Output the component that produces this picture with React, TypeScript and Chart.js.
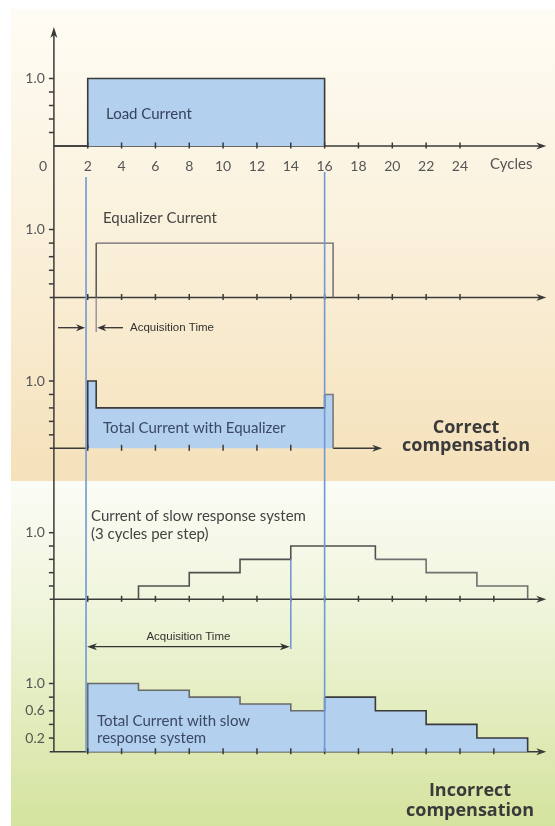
import React, { useEffect, useRef } from "react";
import { Chart, registerables } from "chart.js";
Chart.register(...registerables);

const W = 555;
const H = 826;

// ---- x axis: cycles ----
const cycleTickValues = [2, 4, 6, 8, 10, 12, 14, 16, 18, 20, 22, 24];
const cycleTickLabels = ["2", "4", "6", "8", "10", "12", "14", "16", "18", "20", "22", "24"];
const longTickValues = [2, 4, 6, 8, 10, 12, 14, 16, 18, 20, 22, 24, 26];
const shortTickValues = [2, 4, 6, 8, 10, 12, 14];
const yTickValues = [0.2, 0.4, 0.6, 0.8, 1.0];
const bottomYLabelValues = [1.0, 0.6, 0.2];
const bottomYLabels = ["1.0", "0.6", "0.2"];

// ---- series (cycle where level starts, level) ----
const loadCycles = [0, 2, 16];
const loadLevels = [0, 1.0, 0];

const eqCycles = [2.5, 2.5, 16.5];
const eqLevels = [0, 0.8, 0];

const totEqCycles = [2, 2, 2.5, 16, 16.5];
const totEqLevels = [0, 1.0, 0.6, 0.8, 0];

const slowCycles = [5, 5, 8, 11, 14, 19, 22, 25, 28];
const slowLevels = [0, 0.2, 0.4, 0.6, 0.8, 0.6, 0.4, 0.2, 0];

const totSlowCycles = [2, 2, 5, 8, 11, 14, 16, 19, 22, 25, 28];
const totSlowLevels = [0, 1.0, 0.9, 0.8, 0.7, 0.6, 0.8, 0.6, 0.4, 0.2, 0];

// markers (cycles)
const guideStart = 1.9;
const guideEnd = 16;
const acqEqEnd = 2.5;
const acqSlowEnd = 14;

// ---- layout ----
const X0 = 53.9; // pixel of cycle 0
const PPC = 16.92; // pixels per cycle
const ARROW_END = 29.1; // cycles
const TOT_ARROW_END = 19.4;

const panels = [
  { id: "yLoad", base: 146, one: 78.5 },
  { id: "yEq", base: 297.5, one: 229.5 },
  { id: "yTot", base: 448.3, one: 381 },
  { id: "ySlow", base: 599.3, one: 532.7 },
  { id: "yBot", base: 751.7, one: 683.5 },
];

const FONT = 'Lato, "Open Sans", sans-serif';
const FILL = "#b3d0ee";
const LINE = "#3a3a3a";
const AXIS = "#3a3a3a";
const GUIDE = "#6f99d2";

const pts = (xs: number[], ys: number[]) => xs.map((x, i) => ({ x, y: ys[i] }));

function arrowHead(ctx: CanvasRenderingContext2D, x: number, y: number, dir: number, len = 10, half = 3.5) {
  ctx.beginPath();
  ctx.moveTo(x, y);
  ctx.lineTo(x - dir * len, y - half);
  ctx.lineTo(x - dir * len * 0.7, y);
  ctx.lineTo(x - dir * len, y + half);
  ctx.closePath();
  ctx.fill();
}

function hLine(ctx: CanvasRenderingContext2D, x1: number, x2: number, y: number) {
  ctx.beginPath();
  ctx.moveTo(x1, y);
  ctx.lineTo(x2, y);
  ctx.stroke();
}
function vLine(ctx: CanvasRenderingContext2D, x: number, y1: number, y2: number) {
  ctx.beginPath();
  ctx.moveTo(x, y1);
  ctx.lineTo(x, y2);
  ctx.stroke();
}
function text(ctx: CanvasRenderingContext2D, s: string, x: number, y: number, font: string, color: string, align: CanvasTextAlign = "left") {
  ctx.font = font;
  ctx.fillStyle = color;
  ctx.textAlign = align;
  ctx.textBaseline = "middle";
  ctx.fillText(s, x, y);
}

const diagramPlugin = {
  id: "diagram",
  beforeDraw(chart: any) {
    const ctx: CanvasRenderingContext2D = chart.ctx;
    ctx.save();
    ctx.fillStyle = "#ffffff";
    ctx.fillRect(0, 0, W, H);
    let g = ctx.createLinearGradient(0, 9, 0, 481);
    g.addColorStop(0, "#fefcf4");
    g.addColorStop(0.5, "#faf0da");
    g.addColorStop(1, "#f5e1ba");
    ctx.fillStyle = g;
    ctx.fillRect(11, 9, W - 11, 472);
    g = ctx.createLinearGradient(0, 481, 0, H);
    g.addColorStop(0, "#fbfcf6");
    g.addColorStop(0.4, "#eef4d8");
    g.addColorStop(1, "#d4e39e");
    ctx.fillStyle = g;
    ctx.fillRect(11, 481, W - 11, H - 481);
    ctx.restore();
  },
  beforeDatasetsDraw(chart: any) {
    const ctx: CanvasRenderingContext2D = chart.ctx;
    const xs = chart.scales.x;
    const X = (c: number) => xs.getPixelForValue(c);
    const Y = (id: string, v: number) => chart.scales[id].getPixelForValue(v);
    ctx.save();
    ctx.strokeStyle = AXIS;
    ctx.fillStyle = AXIS;
    ctx.lineWidth = 1.5;
    // vertical axis
    const yTop = 27;
    vLine(ctx, X(0), Y("yBot", 0), yTop + 6);
    ctx.beginPath();
    ctx.moveTo(X(0), yTop);
    ctx.lineTo(X(0) - 3.5, yTop + 11);
    ctx.lineTo(X(0), yTop + 8);
    ctx.lineTo(X(0) + 3.5, yTop + 11);
    ctx.closePath();
    ctx.fill();
    // y ticks
    panels.forEach((p) => {
      yTickValues.forEach((v) => hLine(ctx, X(0) - 5, X(0), Y(p.id, v)));
    });
    // horizontal axes
    const full = ["yLoad", "yEq", "ySlow", "yBot"];
    full.forEach((id) => {
      const y = Y(id, 0);
      hLine(ctx, id === "yLoad" ? X(0) : X(-0.25), X(ARROW_END) - 6, y);
      arrowHead(ctx, X(ARROW_END), y, 1);
    });
    const yt = Y("yTot", 0);
    hLine(ctx, X(-0.25), X(2), yt);
    hLine(ctx, X(16.5), X(TOT_ARROW_END) - 6, yt);
    arrowHead(ctx, X(TOT_ARROW_END), yt, 1);
    ctx.restore();
  },
  afterDatasetsDraw(chart: any) {
    const ctx: CanvasRenderingContext2D = chart.ctx;
    const xs = chart.scales.x;
    const X = (c: number) => xs.getPixelForValue(c);
    const Y = (id: string, v: number) => chart.scales[id].getPixelForValue(v);
    ctx.save();
    ctx.strokeStyle = AXIS;
    ctx.lineWidth = 1.5;
    const ticks = (id: string, vals: number[]) =>
      vals.forEach((c) => vLine(ctx, X(c), Y(id, 0) - 3.5, Y(id, 0) + 2.5));
    ticks("yLoad", cycleTickValues);
    ticks("yEq", cycleTickValues);
    ticks("yTot", shortTickValues);
    ticks("ySlow", longTickValues);
    ticks("yBot", longTickValues);

    // guide lines
    ctx.strokeStyle = GUIDE;
    ctx.lineWidth = 1.6;
    vLine(ctx, X(guideStart), 177, Y("yBot", 0));
    vLine(ctx, X(guideEnd), 172, Y("yBot", 0));
    vLine(ctx, X(acqSlowEnd), Y("ySlow", 0.6), 649);

    // acquisition (equalizer)
    ctx.strokeStyle = "#8d8896";
    ctx.lineWidth = 1.3;
    vLine(ctx, X(acqEqEnd), Y("yEq", 0), 332);
    ctx.strokeStyle = "#333";
    ctx.fillStyle = "#333";
    ctx.lineWidth = 1.3;
    const ya = 327.7;
    hLine(ctx, 58, X(guideStart) - 6, ya);
    arrowHead(ctx, X(guideStart) - 1, ya, 1, 9, 3.5);
    hLine(ctx, X(acqEqEnd) + 6, 123, ya);
    arrowHead(ctx, X(acqEqEnd) + 1, ya, -1, 9, 3.5);
    text(ctx, "Acquisition Time", 130, ya, '11.5px "Liberation Sans", Arial, sans-serif', "#333");

    // acquisition (slow)
    const yb = 646.7;
    hLine(ctx, X(guideStart) + 6, X(acqSlowEnd) - 6, yb);
    arrowHead(ctx, X(guideStart) + 1, yb, -1, 10, 3.5);
    arrowHead(ctx, X(acqSlowEnd) - 1, yb, 1, 10, 3.5);
    text(ctx, "Acquisition Time", (X(guideStart) + X(acqSlowEnd)) / 2, 637, '11.5px "Liberation Sans", Arial, sans-serif', "#333", "center");

    // x tick labels (top)
    const lab = `14px ${FONT}`;
    text(ctx, "0", 43, 166, lab, "#555", "center");
    cycleTickValues.forEach((c, i) => text(ctx, cycleTickLabels[i], X(c), 166, lab, "#555", "center"));
    text(ctx, "Cycles", 490, 164, `15px ${FONT}`, "#555");

    // y labels
    ["yLoad", "yEq", "yTot", "ySlow"].forEach((id) => text(ctx, "1.0", X(0) - 9, Y(id, 1), lab, "#555", "right"));
    bottomYLabelValues.forEach((v, i) => text(ctx, bottomYLabels[i], X(0) - 9, Y("yBot", v), lab, "#555", "right"));

    // series labels
    const f15 = `15px ${FONT}`;
    text(ctx, "Load Current", 106, 114, f15, "#37425c");
    text(ctx, "Equalizer Current", 103, 218, f15, "#444");
    text(ctx, "Total Current with Equalizer", 103, 428, f15, "#3b4862");
    text(ctx, "Current of slow response system", 91, 516.5, f15, "#444");
    text(ctx, "(3 cycles per step)", 91, 534, f15, "#444");
    text(ctx, "Total Current with slow", 97, 721.5, f15, "#3b4862");
    text(ctx, "response system", 97, 738.3, f15, "#3b4862");

    const fb = `bold 18px "Open Sans", ${FONT}`;
    text(ctx, "Correct", 466, 428, fb, "#3a3a3a", "center");
    text(ctx, "compensation", 466, 446, fb, "#3a3a3a", "center");
    text(ctx, "Incorrect", 470, 791, fb, "#3a3a3a", "center");
    text(ctx, "compensation", 470, 811, fb, "#3a3a3a", "center");
    ctx.restore();
  },
};

export default function App() {
  const ref = useRef<HTMLCanvasElement | null>(null);
  useEffect(() => {
    if (!ref.current) return;
    const scales: any = {
      x: { type: "linear", min: -X0 / PPC, max: (W - X0) / PPC, display: false },
    };
    panels.forEach((p) => {
      const k = p.base - p.one;
      scales[p.id] = { type: "linear", min: (p.base - H) / k, max: p.base / k, display: false };
    });
    const line = (data: any, yAxisID: string, fill: boolean, extra: any = {}) => ({
      data,
      yAxisID,
      stepped: true,
      borderColor: LINE,
      borderWidth: 1.6,
      pointRadius: 0,
      fill: fill ? "origin" : false,
      backgroundColor: FILL,
      ...extra,
    });
    const chart = new Chart(ref.current, {
      type: "line",
      data: {
        datasets: [
          line(pts(loadCycles, loadLevels), "yLoad", true),
          line(pts(eqCycles, eqLevels), "yEq", false, {
            borderColor: "#4a4a4a",
            borderWidth: 1.4,
            segment: { borderColor: (c: any) => (c.p0DataIndex === 1 ? "#6a6470" : undefined) },
          }),
          line(pts(totEqCycles, totEqLevels), "yTot", true, {
            segment: { borderColor: (c: any) => (c.p0DataIndex >= 3 ? "#7a7a7a" : undefined) },
          }),
          line(pts(slowCycles, slowLevels), "ySlow", false, {
            borderColor: "#505050",
            segment: { borderColor: (c: any) => (c.p0DataIndex >= 5 ? "#707070" : undefined) },
          }),
          line(pts(totSlowCycles, totSlowLevels), "yBot", true, {
            segment: { borderColor: (c: any) => (c.p0DataIndex < 6 ? "#6a6a6a" : undefined) },
          }),
        ],
      },
      options: {
        animation: false,
        responsive: false,
        maintainAspectRatio: false,
        devicePixelRatio: 1,
        layout: { padding: 0 },
        plugins: { legend: { display: false }, tooltip: { enabled: false } },
        scales,
        elements: { line: { tension: 0 } },
      } as any,
      plugins: [diagramPlugin],
    });
    return () => chart.destroy();
  }, []);
  return (
    <div style={{ position: "absolute", left: 0, top: 0, width: W, height: H }}>
      <canvas ref={ref} width={W} height={H} style={{ display: "block", width: W, height: H }} />
    </div>
  );
}
